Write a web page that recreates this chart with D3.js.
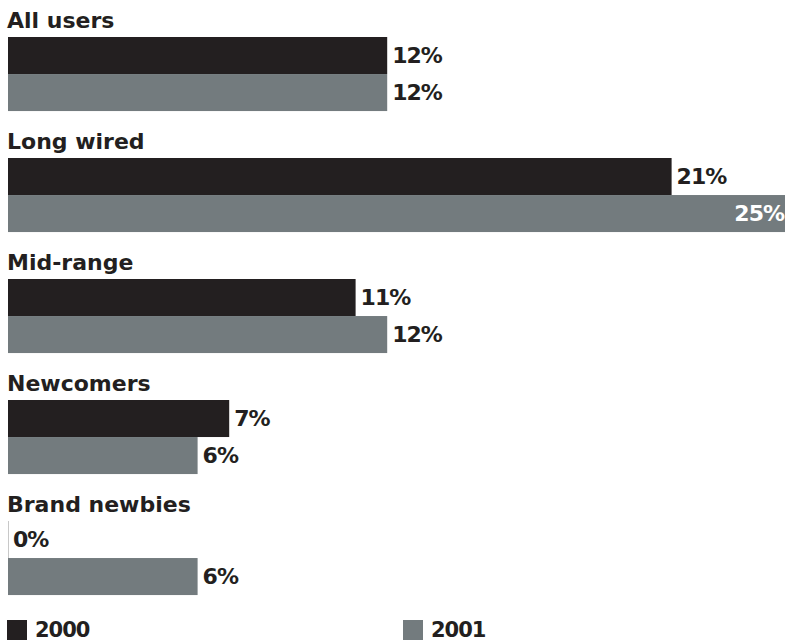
<!DOCTYPE html>
<html>
<head>
<meta charset="utf-8">
<script src="https://cdn.jsdelivr.net/npm/d3@7"></script>
<style>
  body { margin: 0; background: #fff; }
  text { font-family: "DejaVu Sans", sans-serif; font-weight: bold; fill: #231f20; }
</style>
</head>
<body>
<svg id="chart" width="785" height="641"></svg>
<script>
const categories = ['All users', 'Long wired', 'Mid-range', 'Newcomers', 'Brand newbies'];
const years = ['2000', '2001'];
const values2000 = [12, 21, 11, 7, 0];
const values2001 = [12, 25, 12, 6, 6];

const colors = { '2000': '#231f20', '2001': '#737b7e' };
const width = 785;

const rows = categories.map((c, i) => ({
  category: c,
  bars: [
    { year: '2000', value: values2000[i] },
    { year: '2001', value: values2001[i] },
  ],
}));

const x = d3.scaleLinear().domain([0, 25]).range([8, 798]);

const y = d3.scaleBand()
  .domain(categories)
  .range([37, 642])
  .paddingInner(0.388)
  .paddingOuter(0.194)
  .align(0);

const yInner = d3.scaleBand()
  .domain(years)
  .range([0, y.bandwidth()]);

const svg = d3.select('#chart');

const group = svg.selectAll('g.row')
  .data(rows)
  .join('g')
  .attr('class', 'row')
  .attr('transform', (d) => `translate(0,${y(d.category)})`);

group.append('text')
  .attr('x', 7)
  .attr('y', -9)
  .style('font-size', '22px')
  .text((d) => d.category);

const bar = group.selectAll('g.bar')
  .data((d) => d.bars)
  .join('g')
  .attr('class', 'bar')
  .attr('transform', (d) => `translate(0,${yInner(d.year)})`);

bar.append('rect')
  .attr('x', x(0))
  .attr('width', (d) => x(d.value) - x(0))
  .attr('height', yInner.bandwidth())
  .attr('fill', (d) => colors[d.year]);

// zero-value bars get a hairline
bar.filter((d) => d.value === 0)
  .append('line')
  .attr('x1', x(0) + 0.5)
  .attr('x2', x(0) + 0.5)
  .attr('y1', 0)
  .attr('y2', yInner.bandwidth())
  .attr('stroke', '#c8c8c8')
  .attr('stroke-width', 1);

bar.append('text')
  .attr('y', yInner.bandwidth() / 2)
  .attr('dy', '0.36em')
  .style('font-size', '22px')
  .style('letter-spacing', '-1px')
  .text((d) => `${d.value}%`)
  .each(function (d) {
    const t = d3.select(this);
    const w = this.getComputedTextLength();
    const end = x(d.value);
    if (end + 4 + w > width) {
      t.attr('x', width - 1).attr('text-anchor', 'end').style('fill', '#fff');
    } else {
      t.attr('x', end + 5);
    }
  });

// legend
const legend = svg.selectAll('g.legend')
  .data(years)
  .join('g')
  .attr('class', 'legend')
  .attr('transform', (d, i) => `translate(${i === 0 ? 7 : 403},620)`);

legend.append('rect')
  .attr('width', 20)
  .attr('height', 20)
  .attr('fill', (d) => colors[d]);

legend.append('text')
  .attr('x', 28)
  .attr('y', 17)
  .style('font-size', '21px')
  .style('letter-spacing', '-1px')
  .text((d) => d);
</script>
</body>
</html>
